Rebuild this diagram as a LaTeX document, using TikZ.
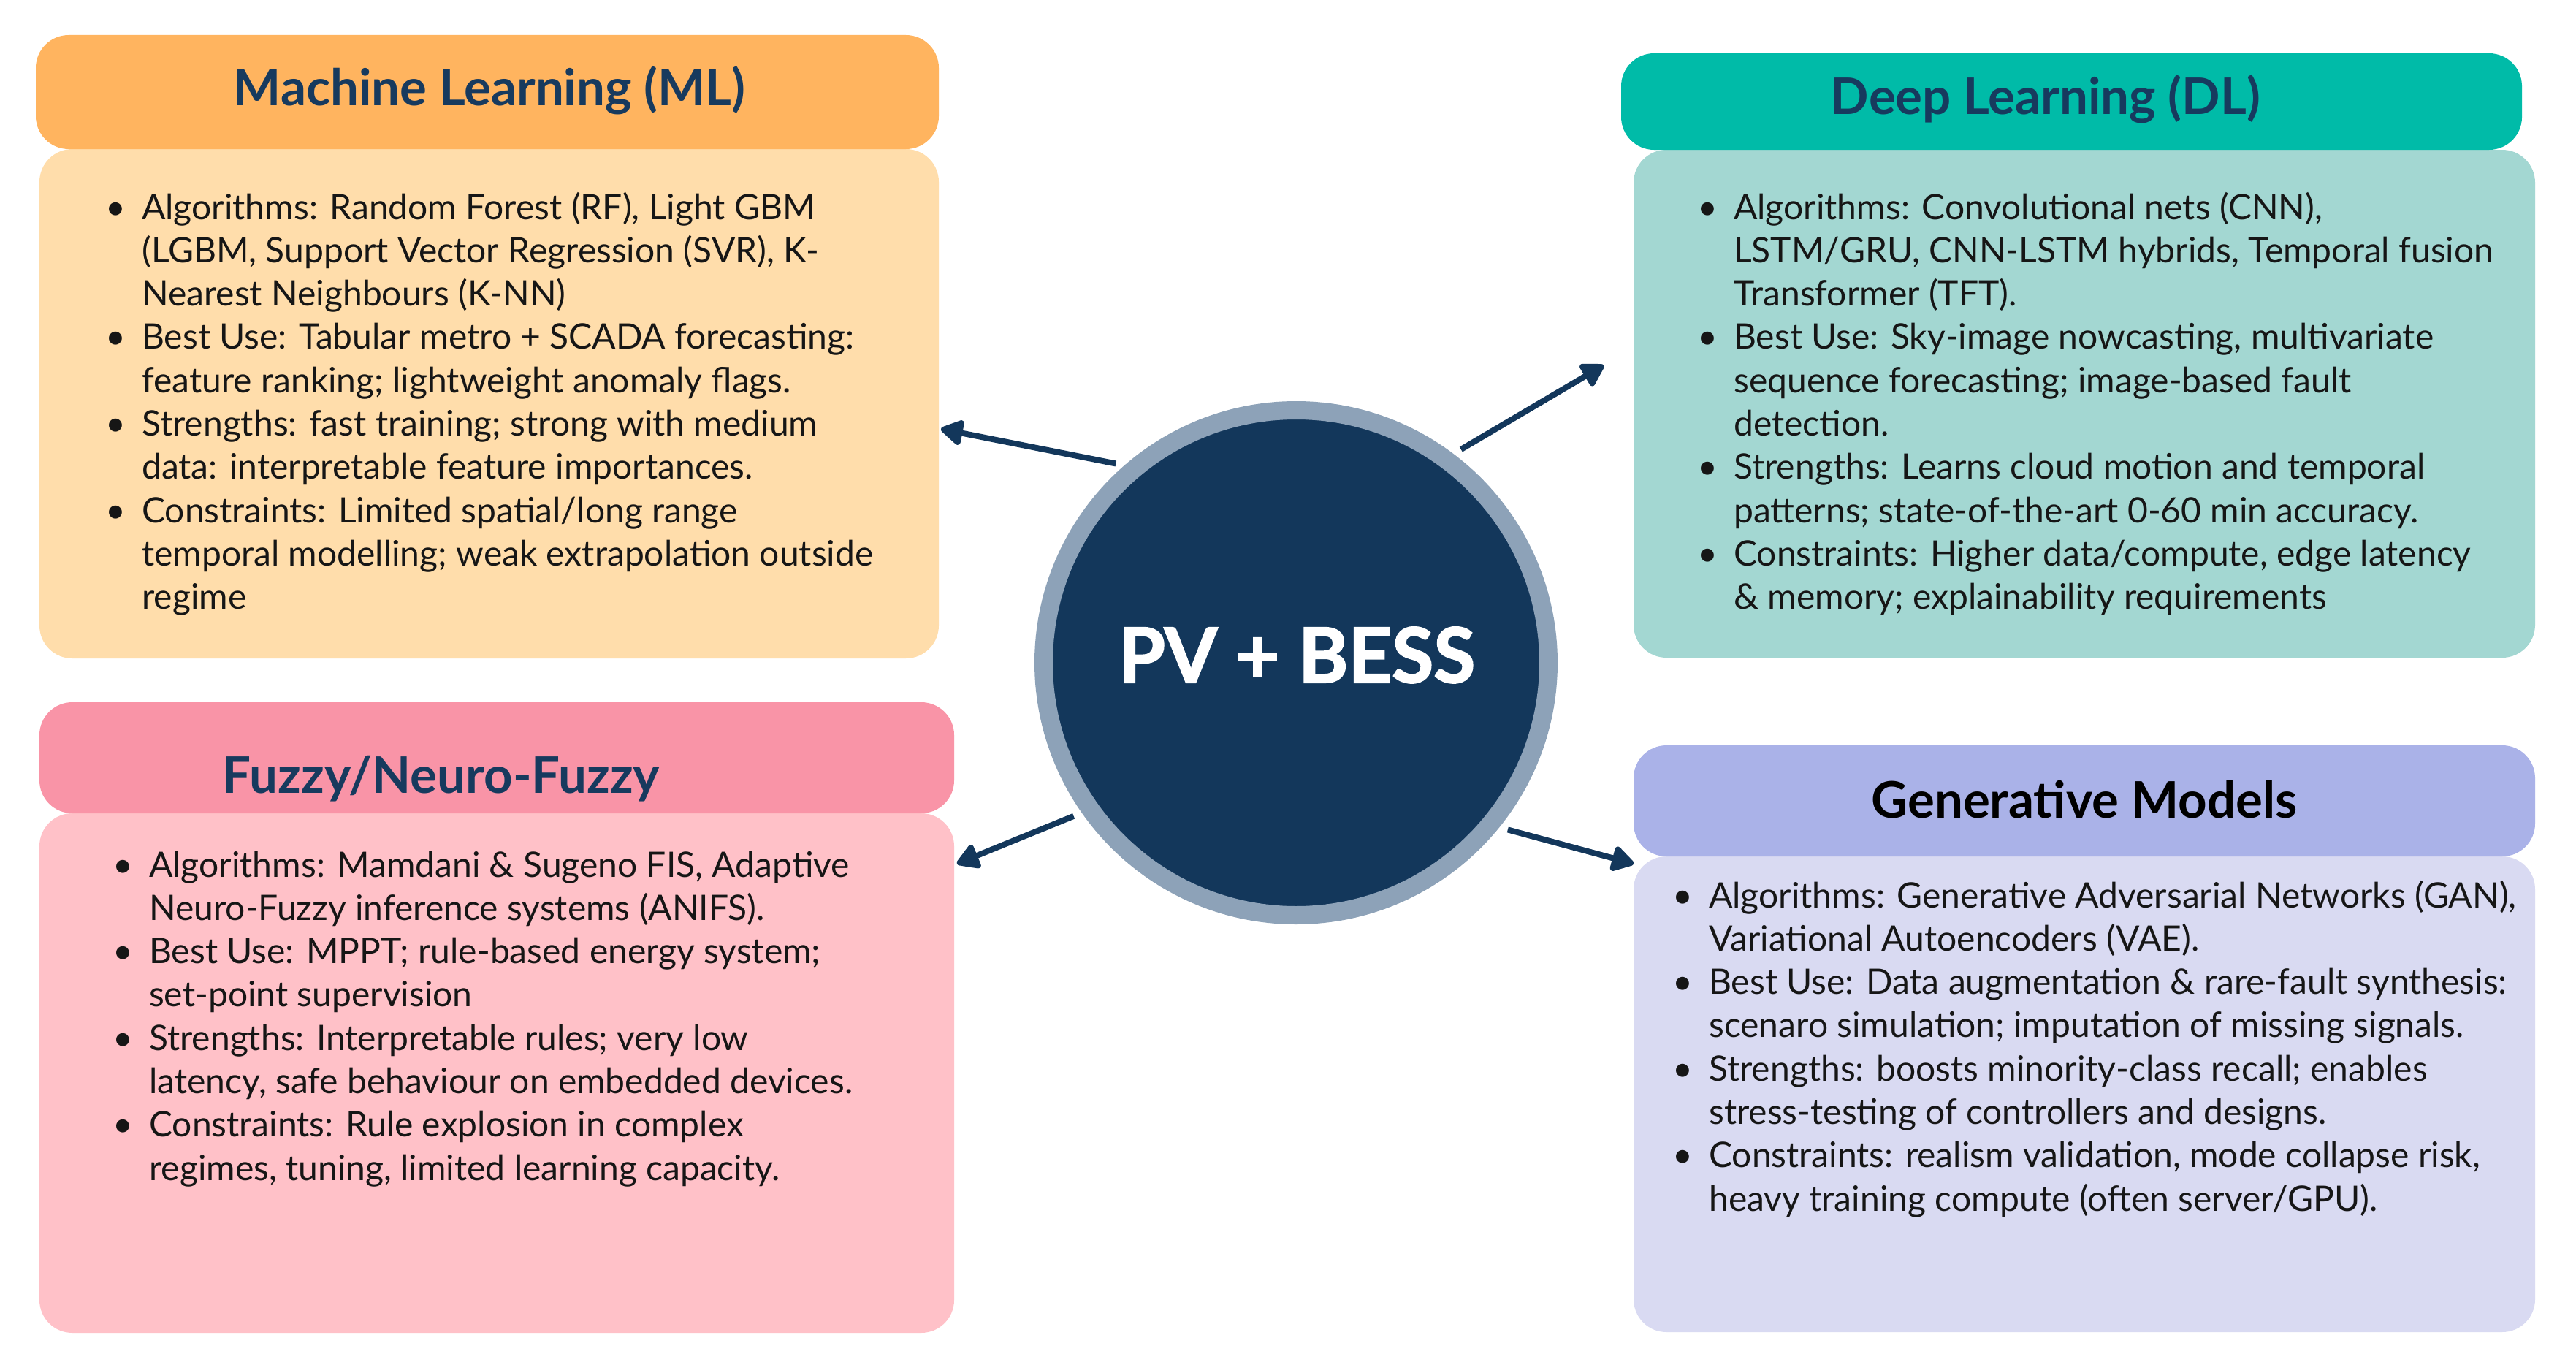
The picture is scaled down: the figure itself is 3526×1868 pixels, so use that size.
\documentclass[tikz,border=0pt]{standalone}
\usepackage{fontspec}
\setmainfont{Lato}
\newfontfamily\pvfont[BoldFeatures={FakeBold=2}]{Lato}
\usetikzlibrary{arrows.meta}
\definecolor{navy}{HTML}{13375B}
\definecolor{ring}{HTML}{8DA2B8}
\definecolor{ttlc}{HTML}{173A5E}
\definecolor{txtc}{HTML}{161616}
\definecolor{mlH}{HTML}{FFB45F}
\definecolor{mlB}{HTML}{FFDDAB}
\definecolor{dlH}{HTML}{00BBA8}
\definecolor{dlB}{HTML}{A3D7D2}
\definecolor{fzH}{HTML}{F994A7}
\definecolor{fzB}{HTML}{FFC1C8}
\definecolor{gnH}{HTML}{AAB2E8}
\definecolor{gnB}{HTML}{D9DAF2}
\newcommand\blt{\llap{\makebox[0pt][c]{\textbullet}\hskip 36pt}}
\begin{document}
\begin{tikzpicture}[x=1pt,y=-1pt,
  panel/.style={rectangle, rounded corners=45pt, inner sep=0pt, draw=none},
  ttl/.style={inner sep=0pt, anchor=base, text=ttlc, font=\fontsize{69}{78}\selectfont\bfseries},
  body/.style={inner sep=0pt, anchor=base west, text=txtc, font=\fontsize{48}{59.3}\selectfont},
  conn/.style={draw=navy, line width=8pt, shorten <=12pt, -{Triangle[length=34pt,width=38pt,round]}}
]
\useasboundingbox (0,0) rectangle (3526,1868);
\fill[white] (0,0) rectangle (3526,1868);

% Machine Learning
\node[panel, fill=mlB, minimum width=1231pt, minimum height=697pt] (mlBody) at (669.5,552.5) {};
\node[panel, fill=mlH, minimum width=1236pt, minimum height=156pt] (mlHead) at (667,126) {};
\node[ttl] (mlTitle) at (670,144) {Machine Learning (ML)};
\node[body] (mlText) at (194,300) {\begin{tabular}[t]{@{}l@{}}
\blt Algorithms: Random Forest (RF), Light GBM\\
(LGBM, Support Vector Regression (SVR), K-\\
Nearest Neighbours (K-NN)\\
\blt Best Use: Tabular metro + SCADA forecasting:\\
feature ranking; lightweight anomaly flags.\\
\blt Strengths: fast training; strong with medium\\
data: interpretable feature importances.\\
\blt Constraints: Limited spatial/long range\\
temporal modelling; weak extrapolation outside\\
regime
\end{tabular}};

% Deep Learning
\node[panel, fill=dlB, minimum width=1234pt, minimum height=695pt] (dlBody) at (2853,552.5) {};
\node[panel, fill=dlH, minimum width=1233pt, minimum height=132pt] (dlHead) at (2835.5,139) {};
\node[ttl] (dlTitle) at (2800,156) {Deep Learning (DL)};
\node[body] (dlText) at (2373,300) {\begin{tabular}[t]{@{}l@{}}
\blt Algorithms: Convolutional nets (CNN),\\
LSTM/GRU, CNN-LSTM hybrids, Temporal fusion\\
Transformer (TFT).\\
\blt Best Use: Sky-image nowcasting, multivariate\\
sequence forecasting; image-based fault\\
detection.\\
\blt Strengths: Learns cloud motion and temporal\\
patterns; state-of-the-art 0-60 min accuracy.\\
\blt Constraints: Higher data/compute, edge latency\\
\& memory; explainability requirements
\end{tabular}};

% Fuzzy
\node[panel, fill=fzB, minimum width=1252pt, minimum height=711pt] (fzBody) at (680,1468.5) {};
\node[panel, fill=fzH, minimum width=1252pt, minimum height=152pt] (fzHead) at (680,1037) {};
\node[ttl] (fzTitle) at (604,1085) {Fuzzy/Neuro-Fuzzy};
\node[body] (fzText) at (204,1200) {\begin{tabular}[t]{@{}l@{}}
\blt Algorithms: Mamdani \& Sugeno FIS, Adaptive\\
Neuro-Fuzzy inference systems (ANIFS).\\
\blt Best Use: MPPT; rule-based energy system;\\
set-point supervision\\
\blt Strengths: Interpretable rules; very low\\
latency, safe behaviour on embedded devices.\\
\blt Constraints: Rule explosion in complex\\
regimes, tuning, limited learning capacity.
\end{tabular}};

% Generative
\node[panel, fill=gnB, minimum width=1234pt, minimum height=651pt] (gnBody) at (2853,1497.5) {};
\node[panel, fill=gnH, minimum width=1234pt, minimum height=152pt] (gnHead) at (2853,1096) {};
\node[ttl, text=black] (gnTitle) at (2853,1119) {Generative Models};
\node[body] (gnText) at (2339,1242) {\begin{tabular}[t]{@{}l@{}}
\blt Algorithms: Generative Adversarial Networks (GAN),\\
Variational Autoencoders (VAE).\\
\blt Best Use: Data augmentation \& rare-fault synthesis:\\
scenaro simulation; imputation of missing signals.\\
\blt Strengths: boosts minority-class recall; enables\\
stress-testing of controllers and designs.\\
\blt Constraints: realism validation, mode collapse risk,\\
heavy training compute (often server/GPU).
\end{tabular}};

% Center
\node[circle, fill=navy, draw=ring, line width=25pt, minimum size=691pt, inner sep=0pt] (pv) at (1774,907) {};
\node[inner sep=0pt, anchor=base, text=white, font=\pvfont\fontsize{104}{110}\selectfont\bfseries] (pvText) at (1775,934) {PV + BESS};

\coordinate (mlTip) at (1288,587);
\coordinate (dlTip) at (2195,500);
\coordinate (fzTip) at (1310,1182);
\coordinate (gnTip) at (2236,1182);
\draw[conn] (pv.131) -- (mlTip);
\draw[conn] (pv.53) -- (dlTip);
\draw[conn] (pv.215) -- (fzTip);
\draw[conn] (pv.321) -- (gnTip);
\end{tikzpicture}
\end{document}
